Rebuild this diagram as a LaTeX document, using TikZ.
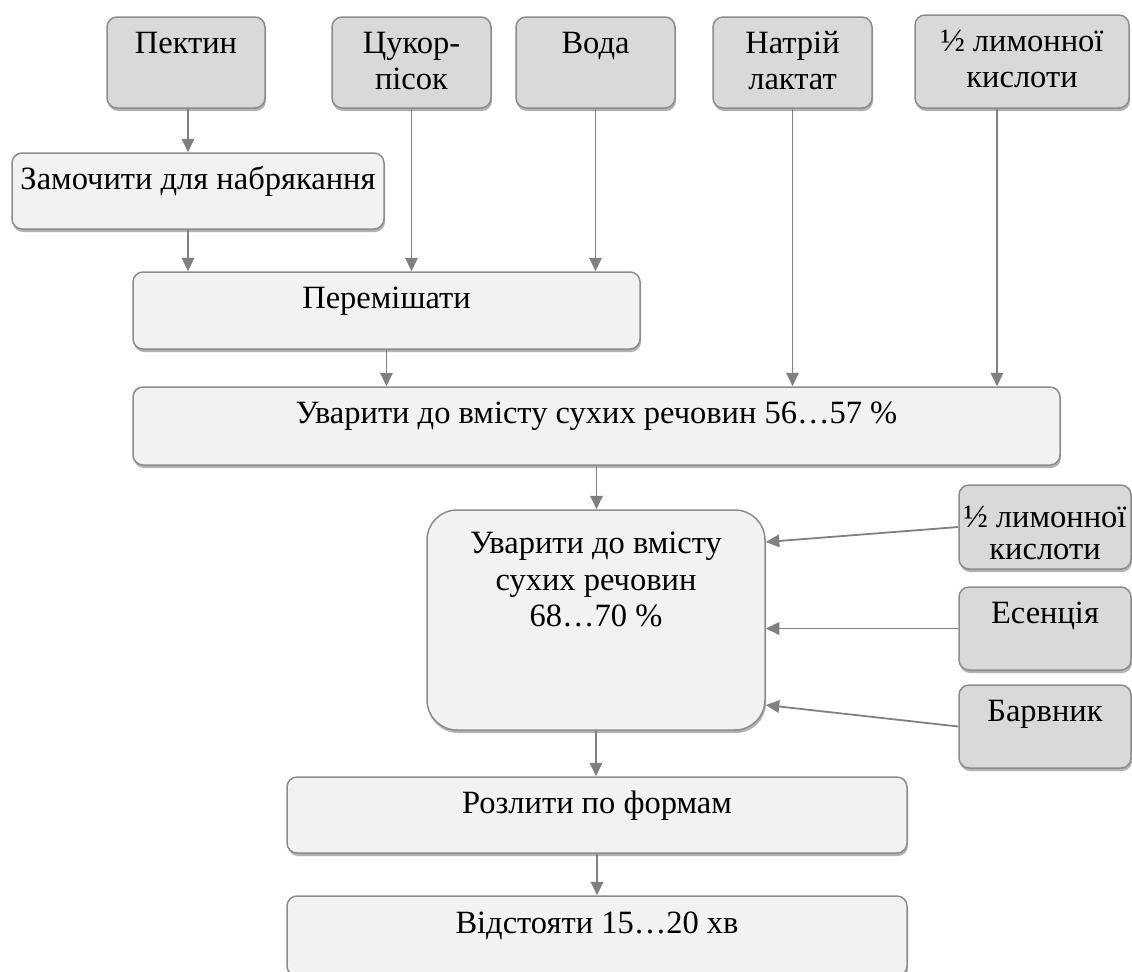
\documentclass[tikz,border=0pt]{standalone}
\usepackage{fontspec}
\setmainfont{Liberation Serif}
\usetikzlibrary{arrows.meta,shadows}

\definecolor{ingrfill}{HTML}{D9D9D9}
\definecolor{stagefill}{HTML}{F2F2F2}
\definecolor{boxline}{HTML}{8C8C8C}
\definecolor{arrowgray}{HTML}{808080}

\newlength{\px}
\setlength{\px}{0.02cm}
\newcommand{\boxtext}[4]{\parbox[c][#2\px][t]{#1\px}{\centering\rule{0pt}{#3\px}#4}}

\begin{document}
\begin{tikzpicture}[x=0.02cm, y=-0.02cm, font=\fontsize{18.5pt}{0.74cm}\selectfont,
            box/.style={draw=boxline, line width=1.5\px, rounded corners=10\px, inner sep=0pt,
                drop shadow={shadow xshift=1\px, shadow yshift=-3\px, fill=black, opacity=0.3}},
            ingredient/.style={box, fill=ingrfill},
            stage/.style={box, fill=stagefill},
            feed/.style={draw=arrowgray, line width=1.8\px, -{Triangle[length=0.27cm, width=0.25cm]}}]
            \path[use as bounding box, clip] (0,0) rectangle (1132,971);

            \node (pectin) [ingredient] at (186,62.5) {\boxtext{158}{91}{36}{Пектин}};
            \node (sugar) [ingredient] at (411.5,62.5) {\boxtext{159}{91}{36}{Цукор-\\пісок}};
            \node (water) [ingredient] at (595.5,62.5) {\boxtext{159}{91}{36}{Вода}};
            \node (lactate) [ingredient] at (792.5,62.5) {\boxtext{159}{91}{36}{Натрій\\лактат}};
            \node (acid1) [ingredient] at (1022,61.5) {\boxtext{214}{93}{36}{½ лимонної\\кислоти}};

            \node (soak) [stage] at (198,191) {\boxtext{372}{76}{36}{Замочити для набрякання}};
            \node (mix) [stage] at (386.5,310.5) {\boxtext{507}{77}{36}{Перемішати}};
            \node (boil1) [stage] at (596.5,426) {\boxtext{927}{78}{36}{Уварити до вмісту сухих речовин 56…57 \%}};
            \node (boil2) [stage, rounded corners=30\px] at (596,620) {\boxtext{338}{220}{43}{Уварити до вмісту\\сухих речовин\\68…70 \%}};

            \node (acid2) [ingredient] at (1045,527) {\boxtext{172}{84}{42}{½ лимонної\\[-5\px]кислоти}};
            \node (essence) [ingredient] at (1045,628.5) {\boxtext{172}{83}{36}{Есенція}};
            \node (dye) [ingredient] at (1045,726.5) {\boxtext{172}{83}{36}{Барвник}};

            \node (pour) [stage] at (597,815) {\boxtext{620}{76}{36}{Розлити по формам}};
            \node (settle) [stage] at (597,936) {\boxtext{620}{80}{37}{Відстояти 15…20 хв}};

            \coordinate (pectinfoot) at ([xshift=2\px]pectin.south);
            \coordinate (acidfoot) at ([xshift=-25\px]acid1.south);

            \draw [feed] (pectinfoot) -- (pectinfoot |- soak.north);
            \draw [feed] (pectinfoot |- soak.south) -- (pectinfoot |- mix.north);
            \draw [feed] (sugar.south) -- (sugar.south |- mix.north);
            \draw [feed] (water.south) -- (water.south |- mix.north);
            \draw [feed] (mix.south) -- (mix.south |- boil1.north);
            \draw [feed] (lactate.south) -- (lactate.south |- boil1.north);
            \draw [feed] (acidfoot) -- (acidfoot |- boil1.north);
            \draw [feed] (boil1.south) -- (boil1.south |- boil2.north);
            \draw [feed] (acid2.west) -- ([yshift=78\px]boil2.east);
            \draw [feed] (essence.west) -- (essence.west -| boil2.east);
            \draw [feed] (dye.west) -- ([yshift=-85\px]boil2.east);
            \draw [feed] (boil2.south) -- (boil2.south |- pour.north);
            \draw [feed] (pour.south) -- (pour.south |- settle.north);
        \end{tikzpicture}
\end{document}
